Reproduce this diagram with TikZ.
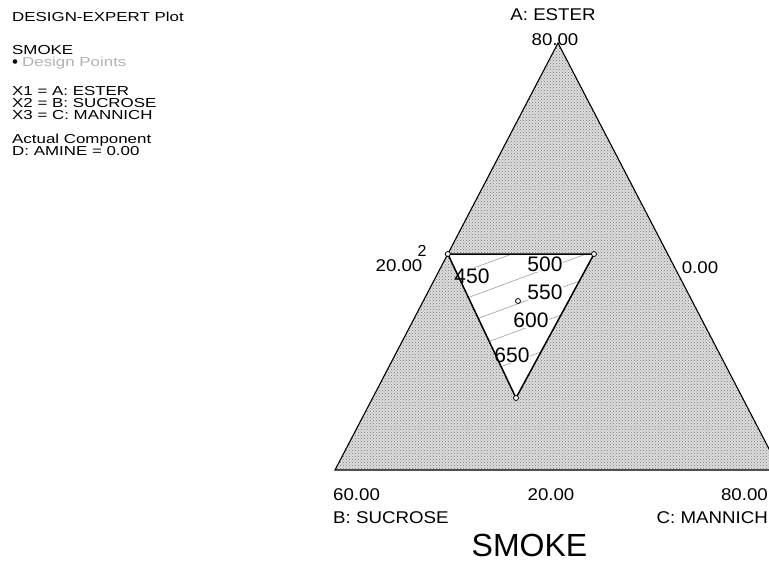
\documentclass[tikz,border=0pt]{standalone}
\usepackage{fontspec}
\usepackage{graphicx}
\setmainfont{Liberation Sans}
\usetikzlibrary{patterns}
\newcommand{\lgd}[1]{\scalebox{1.3}[1]{#1}}
\newcommand{\axl}[1]{\scalebox{1.1}[1]{#1}}
\begin{document}
\begin{tikzpicture}[x=1pt,y=-1pt,
  legendtext/.style={anchor=base west,inner sep=0pt,font=\fontsize{13}{13}\selectfont},
  axistext/.style={inner sep=0pt,font=\fontsize{17}{18}\selectfont},
  contourlabel/.style={inner sep=0.6pt,font=\fontsize{21}{22}\selectfont},
  contourline/.style={gray!75,line width=0.6pt},
  designpt/.style={draw=black,fill=white,line width=0.8pt,circle,inner sep=0pt,minimum size=5pt},
  outeredge/.style={black,line width=1.1pt,line join=miter},
  inneredge/.style={black,line width=1.5pt,line join=miter}]
\useasboundingbox (0,0) rectangle (769,563);
% coordinates
\coordinate (T) at (558,43);
\coordinate (L) at (335,470);
\coordinate (R) at (780,470);
\coordinate (P1) at (447.8,254);
\coordinate (P2) at (594,254);
\coordinate (P3) at (516,398);
\coordinate (P0) at (518,301);
% outer triangle
\begin{scope}
\clip (0,0) rectangle (769,563);
\fill[black!13] (L) -- (T) -- (R) -- cycle;
\fill[pattern=crosshatch dots,pattern color=black!55] (L) -- (T) -- (R) -- cycle;
\draw[outeredge] (L) -- (T) -- (R) -- cycle;
\end{scope}
% feasible region
\fill[white] (P1) -- (P2) -- (P3) -- cycle;
% contour lines
\coordinate (a1) at (457,274);   \coordinate (a2) at (512,254);
\coordinate (b1) at (467,298);   \coordinate (b2) at (586,254);
\coordinate (c1) at (478,318.5); \coordinate (c2) at (579.5,281);
\coordinate (d1) at (489,341.5); \coordinate (d2) at (561,315);
\coordinate (e1) at (502.6,366); \coordinate (e2) at (541,352);
\draw[contourline] (a1) -- (a2);
\draw[contourline] (b1) -- (b2);
\draw[contourline] (c1) -- (c2);
\draw[contourline] (d1) -- (d2);
\draw[contourline] (e1) -- (e2);
% white gaps behind the contour labels, kept inside the region
\begin{scope}
\clip (P1) -- (P2) -- (P3) -- cycle;
\node[contourlabel,fill=white] (g450) at (472,276) {\phantom{450}};
\node[contourlabel,fill=white] (g500) at (545,264) {\phantom{500}};
\node[contourlabel,fill=white] (g550) at (545,292) {\phantom{550}};
\node[contourlabel,fill=white] (g600) at (531,320) {\phantom{600}};
\node[contourlabel,fill=white] (g650) at (512,355) {\phantom{650}};
\end{scope}
\node[contourlabel] (l450) at (472,276) {450};
\node[contourlabel] (l500) at (545,264) {500};
\node[contourlabel] (l550) at (545,292) {550};
\node[contourlabel] (l600) at (531,320) {600};
\node[contourlabel] (l650) at (512,355) {650};
\draw[inneredge] (P1) -- (P2) -- (P3) -- cycle;
% design points
\node[designpt] (d1pt) at (P1) {};
\node[designpt] (d2pt) at (P2) {};
\node[designpt] (d3pt) at (P3) {};
\node[designpt] (d0pt) at (P0) {};
\node[inner sep=0pt,anchor=base,font=\fontsize{16}{16}\selectfont] (two) at (422,256) {2};
% axis labels
\node[axistext,anchor=base] (aname) at (553,20) {\axl{A: ESTER}};
\node[axistext,anchor=base] (amax) at (555,45) {\axl{80.00}};
\node[axistext,anchor=base] (aleft) at (399,271) {\axl{20.00}};
\node[axistext,anchor=base] (aright) at (700,273) {\axl{0.00}};
\node[axistext,anchor=base west] (bval) at (333,500) {\axl{60.00}};
\node[axistext,anchor=base west] (bname) at (333,523) {\axl{B: SUCROSE}};
\node[axistext,anchor=base] (mid) at (551,500) {\axl{20.00}};
\node[axistext,anchor=base east] (cval) at (768,500) {\axl{80.00}};
\node[axistext,anchor=base east] (cname) at (768,523) {\axl{C: MANNICH}};
\node[inner sep=0pt,anchor=base,font=\fontsize{32}{32}\selectfont] (title) at (529.5,556) {SMOKE};
% legend
\node[legendtext] (lg1) at (12,21) {\lgd{DESIGN-EXPERT Plot}};
\node[legendtext] (lg2) at (12,54) {\lgd{SMOKE}};
\fill[black] (15,61.5) circle (2.3);
\node[legendtext,text=gray!60] (lg3) at (22,66) {\lgd{Design Points}};
\node[legendtext] (lg4) at (12,95) {\lgd{X1 = A: ESTER}};
\node[legendtext] (lg5) at (12,107) {\lgd{X2 = B: SUCROSE}};
\node[legendtext] (lg6) at (12,119) {\lgd{X3 = C: MANNICH}};
\node[legendtext] (lg7) at (12,143) {\lgd{Actual Component}};
\node[legendtext] (lg8) at (12,155) {\lgd{D: AMINE = 0.00}};
\end{tikzpicture}
\end{document}
